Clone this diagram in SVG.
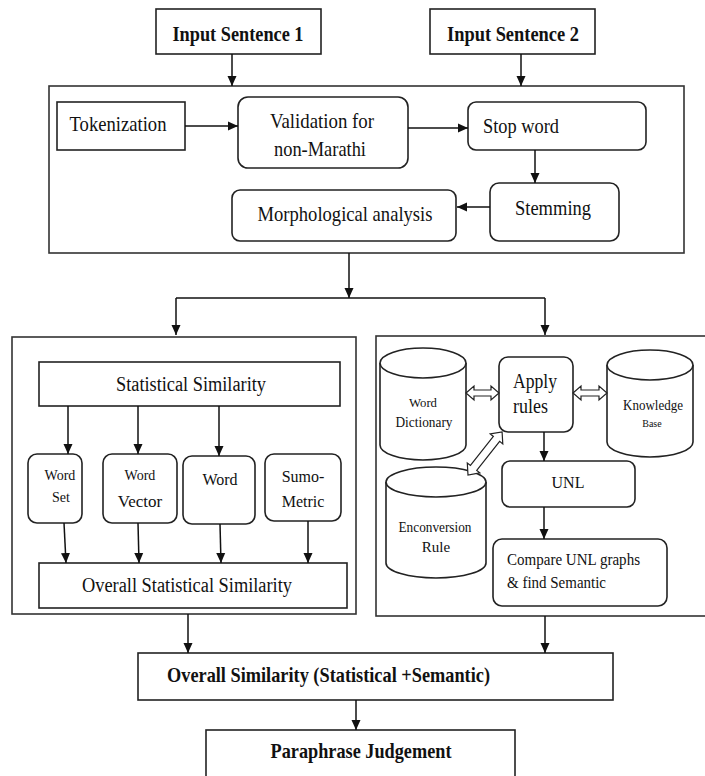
<svg xmlns="http://www.w3.org/2000/svg" width="705" height="776" viewBox="0 0 705 776">
<style>
.box{fill:#fff;stroke:#222;stroke-width:1.6}
.frame{fill:none;stroke:#333;stroke-width:1.6}
.ln{fill:none;stroke:#111;stroke-width:1.5}
.dbl{fill:#fff;stroke:#222;stroke-width:1.2}
text{font-family:"Liberation Serif","Times New Roman",serif;fill:#111}
.b{font-weight:bold}
.c{text-anchor:middle}
</style>
<defs>
<marker id="ah" markerUnits="userSpaceOnUse" markerWidth="10" markerHeight="10" viewBox="0 0 10 10" refX="10" refY="5" orient="auto">
<path d="M0,0.5 L10,5 L0,9.5 Z" fill="#111"/>
</marker>
</defs>
<rect width="705" height="776" fill="#fff"/>

<g id="input1"><rect class="box" x="156" y="9" width="165" height="45"/><text class="b c" x="238" y="41" font-size="21" textLength="131" lengthAdjust="spacingAndGlyphs">Input Sentence 1</text></g>
<g id="input2"><rect class="box" x="430" y="9" width="165" height="45"/><text class="b c" x="513" y="41" font-size="21" textLength="132" lengthAdjust="spacingAndGlyphs">Input Sentence 2</text></g>

<g id="preprocessing"><rect class="frame" x="49" y="86" width="635" height="167"/></g>
<g id="tokenization"><rect class="box" x="57" y="102" width="128" height="48"/><text class="c" x="118" y="131" font-size="21" textLength="97" lengthAdjust="spacingAndGlyphs">Tokenization</text></g>
<g id="validation"><rect class="box" x="238" y="97" width="170" height="71" rx="10"/><text class="c" x="322" y="128" font-size="21" textLength="104" lengthAdjust="spacingAndGlyphs">Validation for</text><text class="c" x="320" y="156" font-size="21" textLength="92" lengthAdjust="spacingAndGlyphs">non-Marathi</text></g>
<g id="stopword"><rect class="box" x="468" y="102" width="178" height="48" rx="8"/><text x="483" y="133" font-size="21" textLength="76" lengthAdjust="spacingAndGlyphs">Stop word</text></g>
<g id="stemming"><rect class="box" x="490" y="183" width="129" height="58" rx="9"/><text class="c" x="553" y="215" font-size="21" textLength="76" lengthAdjust="spacingAndGlyphs">Stemming</text></g>
<g id="morph"><rect class="box" x="232" y="190" width="224" height="51" rx="8"/><text class="c" x="345" y="221" font-size="21" textLength="175" lengthAdjust="spacingAndGlyphs">Morphological analysis</text></g>

<g id="statistical-panel"><rect class="frame" x="12" y="337" width="344" height="277"/></g>
<g id="stat-sim"><rect class="box" x="39" y="362" width="301" height="44"/><text class="c" x="191" y="391" font-size="20" textLength="150" lengthAdjust="spacingAndGlyphs">Statistical Similarity</text></g>
<g id="word-set"><rect class="box" x="28" y="454" width="54" height="69" rx="9"/><text class="c" x="60" y="480" font-size="14">Word</text><text class="c" x="61" y="502" font-size="14">Set</text></g>
<g id="word-vector"><rect class="box" x="103" y="454" width="74" height="69" rx="9"/><text class="c" x="140" y="480" font-size="14">Word</text><text class="c" x="140" y="507" font-size="17">Vector</text></g>
<g id="word"><rect class="box" x="183" y="456" width="72" height="68" rx="9"/><text class="c" x="220" y="485" font-size="16">Word</text></g>
<g id="sumo-metric"><rect class="box" x="265" y="454" width="76" height="67" rx="9"/><text class="c" x="303" y="482" font-size="16">Sumo-</text><text class="c" x="303" y="507" font-size="16">Metric</text></g>
<g id="overall-stat"><rect class="box" x="39" y="563" width="308" height="45"/><text class="c" x="187" y="592" font-size="20" textLength="210" lengthAdjust="spacingAndGlyphs">Overall Statistical Similarity</text></g>

<g id="semantic-panel"><rect class="frame" x="376" y="336" width="340" height="280"/></g>
<g id="word-dictionary"><path class="box" d="M380,363 V445 A43,15 0 0 0 466,445 V363"/><ellipse class="box" cx="423" cy="363" rx="43" ry="15"/><text class="c" x="423" y="407" font-size="13" textLength="28" lengthAdjust="spacingAndGlyphs">Word</text><text class="c" x="424" y="427" font-size="15" textLength="57" lengthAdjust="spacingAndGlyphs">Dictionary</text></g>
<g id="apply-rules"><rect class="box" x="499" y="357" width="74" height="75" rx="9"/><text x="513" y="388" font-size="21" textLength="44" lengthAdjust="spacingAndGlyphs">Apply</text><text x="513" y="413" font-size="21" textLength="35" lengthAdjust="spacingAndGlyphs">rules</text></g>
<g id="knowledge-base"><path class="box" d="M607,365 V442 A43,15 0 0 0 693,442 V365"/><ellipse class="box" cx="650" cy="365" rx="43" ry="15"/><text class="c" x="653" y="410" font-size="15" textLength="60" lengthAdjust="spacingAndGlyphs">Knowledge</text><text class="c" x="652" y="427" font-size="10">Base</text></g>
<g id="enconversion-rule"><path class="box" d="M386,482 V563 A50,15 0 0 0 486,563 V482"/><ellipse class="box" cx="436" cy="482" rx="50" ry="15"/><text class="c" x="435" y="532" font-size="15" textLength="73" lengthAdjust="spacingAndGlyphs">Enconversion</text><text class="c" x="436" y="552" font-size="15">Rule</text></g>
<g id="unl"><rect class="box" x="502" y="461" width="133" height="46" rx="8"/><text class="c" x="568" y="488" font-size="16">UNL</text></g>
<g id="compare"><rect class="box" x="493" y="539" width="174" height="67" rx="9"/><text x="507" y="565" font-size="16" textLength="133" lengthAdjust="spacingAndGlyphs">Compare UNL graphs</text><text x="507" y="588" font-size="16" textLength="99" lengthAdjust="spacingAndGlyphs">&amp; find Semantic</text></g>

<g id="overall-sim"><rect class="box" x="138" y="653" width="475" height="47"/><text class="b" x="167" y="682" font-size="21" textLength="323" lengthAdjust="spacingAndGlyphs">Overall Similarity (Statistical +Semantic)</text></g>
<g id="paraphrase"><rect class="box" x="206" y="730" width="309" height="60"/><text class="b c" x="361" y="758" font-size="21" textLength="181" lengthAdjust="spacingAndGlyphs">Paraphrase Judgement</text></g>

<g id="connectors">
<path class="ln" d="M232,54 V86" marker-end="url(#ah)"/>
<path class="ln" d="M521,54 V86" marker-end="url(#ah)"/>
<path class="ln" d="M185,126 H238" marker-end="url(#ah)"/>
<path class="ln" d="M408,128 H468" marker-end="url(#ah)"/>
<path class="ln" d="M535,150 V183" marker-end="url(#ah)"/>
<path class="ln" d="M490,207 H457" marker-end="url(#ah)"/>
<path class="ln" d="M349,253 V298" marker-end="url(#ah)"/>
<path class="ln" d="M176,298 H545"/>
<path class="ln" d="M176,298 V335" marker-end="url(#ah)"/>
<path class="ln" d="M545,298 V335" marker-end="url(#ah)"/>
<path class="ln" d="M68,406 V454" marker-end="url(#ah)"/>
<path class="ln" d="M138,406 V454" marker-end="url(#ah)"/>
<path class="ln" d="M219,406 V456" marker-end="url(#ah)"/>
<path class="ln" d="M64,523 L66,563" marker-end="url(#ah)"/>
<path class="ln" d="M138,523 L139,563" marker-end="url(#ah)"/>
<path class="ln" d="M220,524 L221,563" marker-end="url(#ah)"/>
<path class="ln" d="M308,521 V563" marker-end="url(#ah)"/>
<path class="ln" d="M544,432 V461" marker-end="url(#ah)"/>
<path class="ln" d="M544,507 V539" marker-end="url(#ah)"/>
<path class="ln" d="M188,614 V653" marker-end="url(#ah)"/>
<path class="ln" d="M545,616 V653" marker-end="url(#ah)"/>
<path class="ln" d="M356,700 V730" marker-end="url(#ah)"/>
<polygon class="dbl" points="466,393 474,386 474,390 491,390 491,386 499,393 491,400 491,396 474,396 474,400"/>
<polygon class="dbl" points="573,393 581,386 581,390 599,390 599,386 607,393 599,400 599,396 581,396 581,400"/>
<polygon class="dbl" transform="translate(468,475) rotate(-51.7)" points="0,0 9,-8 9,-4 46,-4 46,-8 55,0 46,8 46,4 9,4 9,8"/>
</g>
</svg>
